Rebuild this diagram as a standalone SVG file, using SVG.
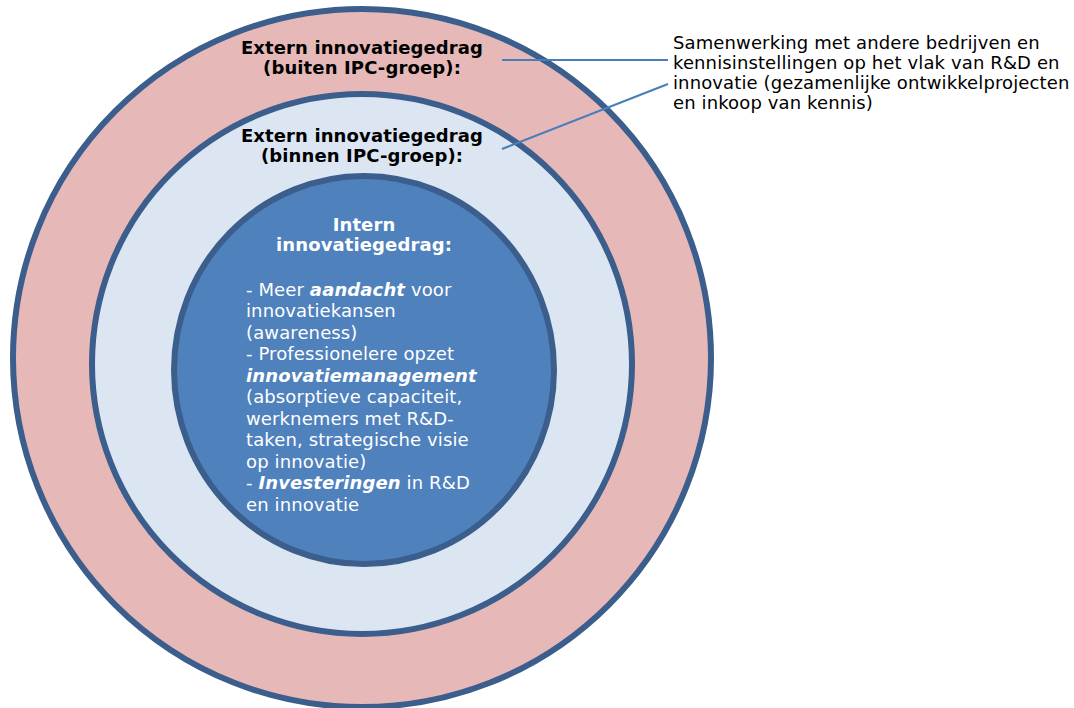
<svg xmlns="http://www.w3.org/2000/svg" width="1074" height="708" viewBox="0 0 1074 708">
<style>
.ring{stroke:#3b5e8c;stroke-width:6}
.t{font-family:"DejaVu Sans",Verdana,sans-serif;font-size:18px;letter-spacing:0.12px}
.b{font-weight:bold}
.bi{font-weight:bold;font-style:italic}
.dark{fill:#000}
.white{fill:#fff}
.conn{stroke:#4a7ebb;stroke-width:2.2;fill:none}
</style>
<rect width="1074" height="708" fill="#fff"/>
<g id="outer">
<circle class="ring" cx="362" cy="358" r="349" fill="#e6b9b8"/>
<text class="t b dark" text-anchor="middle"><tspan x="362" y="54">Extern innovatiegedrag</tspan><tspan x="362" y="74">(buiten IPC-groep):</tspan></text>
</g>
<g id="middle">
<circle class="ring" cx="362" cy="364" r="270" fill="#dce6f2"/>
<text class="t b dark" text-anchor="middle"><tspan x="362" y="142">Extern innovatiegedrag</tspan><tspan x="362" y="162">(binnen IPC-groep):</tspan></text>
</g>
<g id="inner">
<ellipse class="ring" cx="364" cy="370" rx="190" ry="194" fill="#4f81bd"/>
<text class="t b white" text-anchor="middle"><tspan x="364" y="231">Intern</tspan><tspan x="364" y="251">innovatiegedrag:</tspan></text>
<text class="t white">
<tspan x="246" y="296">- Meer <tspan class="bi">aandacht</tspan> voor</tspan>
<tspan x="246" y="317">innovatiekansen</tspan>
<tspan x="246" y="339">(awareness)</tspan>
<tspan x="246" y="360">- Professionelere opzet</tspan>
<tspan x="246" y="382" class="bi">innovatiemanagement</tspan>
<tspan x="246" y="403">(absorptieve capaciteit,</tspan>
<tspan x="246" y="425">werknemers met R&amp;D-</tspan>
<tspan x="246" y="446">taken, strategische visie</tspan>
<tspan x="246" y="468">op innovatie)</tspan>
<tspan x="246" y="489">- <tspan class="bi">Investeringen</tspan> in R&amp;D</tspan>
<tspan x="246" y="511">en innovatie</tspan>
</text>
</g>
<g id="note">
<text class="t dark"><tspan x="673" y="49">Samenwerking met andere bedrijven en</tspan><tspan x="673" y="69">kennisinstellingen op het vlak van R&amp;D en</tspan><tspan x="673" y="89">innovatie (gezamenlijke ontwikkelprojecten</tspan><tspan x="673" y="109">en inkoop van kennis)</tspan></text>
</g>
<g id="connectors">
<line class="conn" x1="502" y1="60" x2="668" y2="60"/>
<line class="conn" x1="502" y1="149" x2="668" y2="84"/>
</g>
</svg>
